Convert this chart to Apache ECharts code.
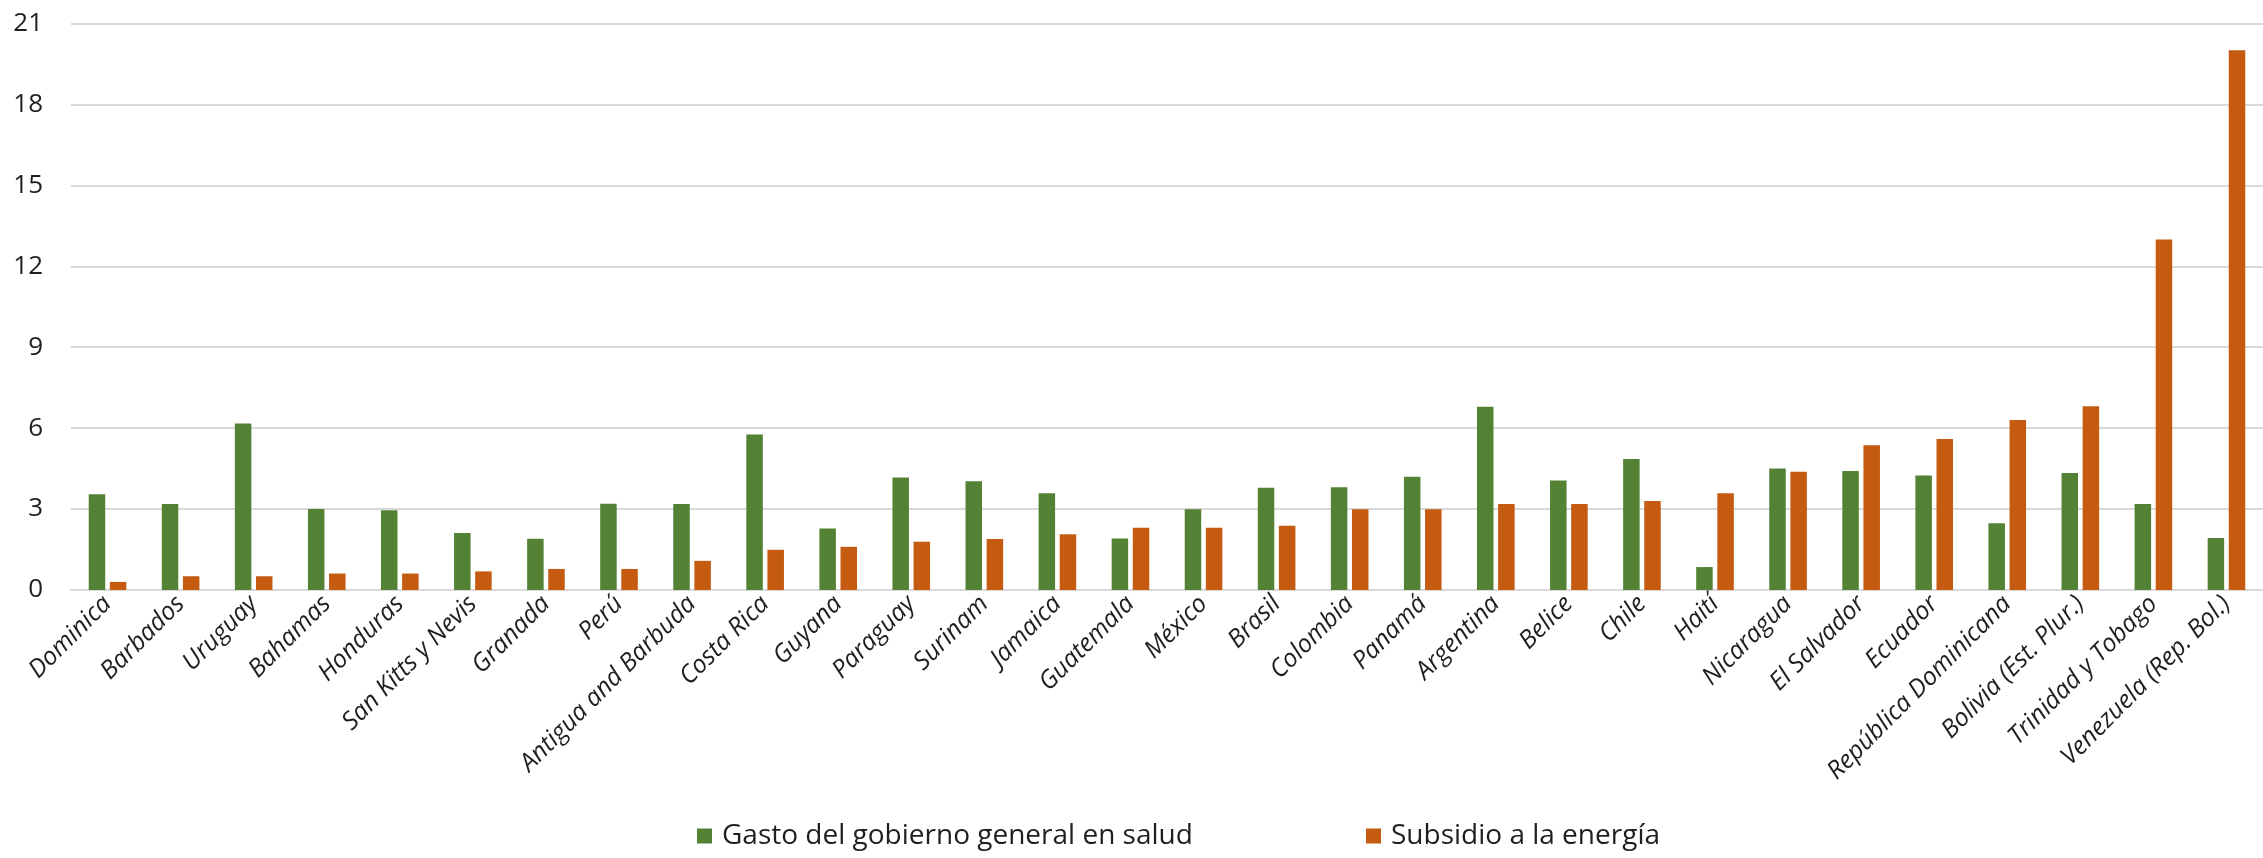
<!DOCTYPE html>
<html>
<head>
<meta charset="utf-8">
<script src="https://cdn.jsdelivr.net/npm/echarts@6/dist/echarts.min.js"></script>
<style>
html,body{margin:0;padding:0;background:#fff;}
#chart{width:2263px;height:858px;}
</style>
</head>
<body>
<div id="chart"></div>
<script>
const categories = ["Dominica","Barbados","Uruguay","Bahamas","Honduras","San Kitts y Nevis","Granada","Perú","Antigua and Barbuda","Costa Rica","Guyana","Paraguay","Surinam","Jamaica","Guatemala","México","Brasil","Colombia","Panamá","Argentina","Belice","Chile","Haití","Nicaragua","El Salvador","Ecuador","República Dominicana","Bolivia (Est. Plur.)","Trinidad y Tobago","Venezuela (Rep. Bol.)"];
const saludName = "Gasto del gobierno general en salud";
const energiaName = "Subsidio a la energía";
const salud = [3.55,3.19,6.17,3.0,2.96,2.11,1.90,3.2,3.19,5.76,2.28,4.17,4.03,3.59,1.91,2.99,3.79,3.81,4.20,6.79,4.06,4.86,0.85,4.50,4.41,4.24,2.47,4.34,3.19,1.93];
const energia = [0.30,0.51,0.51,0.61,0.61,0.69,0.78,0.78,1.08,1.49,1.60,1.79,1.89,2.07,2.31,2.31,2.38,2.99,2.99,3.19,3.19,3.30,3.59,4.38,5.37,5.60,6.30,6.81,12.99,20.01];
const yTicks = {min:0, max:21, interval:3};

const legendText = {fontSize:28, color:'#1f1f1f', fontFamily:'"Open Sans", sans-serif', padding:[0,0,0,5]};
const chart = echarts.init(document.getElementById('chart'));
chart.setOption({
  animation:false,
  backgroundColor:'#ffffff',
  textStyle:{fontFamily:'"Open Sans", sans-serif'},
  grid:{left:71, top:23.5, width:2202, height:566.5, containLabel:false},
  legend:[
    {data:[saludName], left:692, top:817, icon:'rect', itemWidth:15, itemHeight:15, textStyle:legendText},
    {data:[energiaName], left:1361, top:817, icon:'rect', itemWidth:15, itemHeight:15, textStyle:legendText}
  ],
  xAxis:{
    type:'category',
    data:categories,
    axisLine:{lineStyle:{color:'#d9d9d9', width:2}},
    axisTick:{show:false},
    axisLabel:{rotate:45, fontStyle:'italic', fontSize:25, color:'#1f1f1f', margin:10, interval:0, fontFamily:'"Open Sans", sans-serif'}
  },
  yAxis:{
    type:'value',
    min:yTicks.min, max:yTicks.max, interval:yTicks.interval,
    axisLine:{show:false}, axisTick:{show:false},
    splitLine:{lineStyle:{color:'#d9d9d9', width:2}},
    axisLabel:{fontSize:26, color:'#1f1f1f', margin:28, fontFamily:'"Open Sans", sans-serif'}
  },
  series:[
    {name:saludName, type:'bar', data:salud, barWidth:16.5, barGap:'28%', itemStyle:{color:'#548235'}},
    {name:energiaName, type:'bar', data:energia, barWidth:16.5, itemStyle:{color:'#C55A11'}}
  ]
});
</script>
</body>
</html>
